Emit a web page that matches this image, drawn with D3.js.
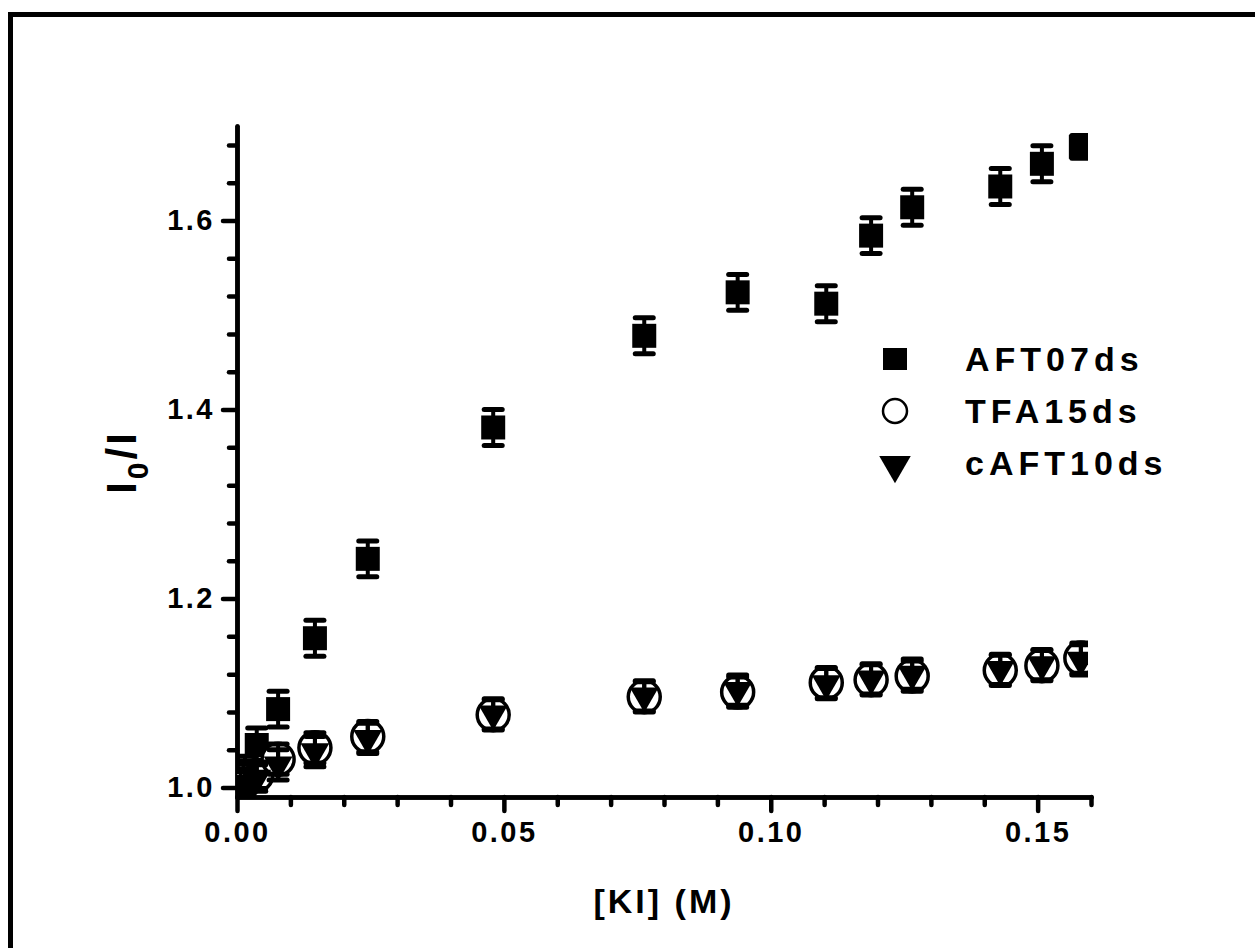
<!DOCTYPE html>
<html lang="en">
<head>
<meta charset="utf-8">
<title>I0/I vs [KI]</title>
<script src="https://d3js.org/d3.v7.min.js"></script>
<style>
  body { margin: 0; background: #fff; }
  text { font-family: Arial, "Liberation Sans", sans-serif; font-weight: bold; fill: #000; }
  .axis path, .axis line { stroke: #000; stroke-width: 4.5; stroke-linecap: round; }
  .axis text { font-size: 29px; letter-spacing: 2.5px; }
</style>
</head>
<body>
<svg id="chart" width="1255" height="948"></svg>
<script>
// KI concentration (M), shared by all three series
const conc = [0, 0.0015, 0.0037, 0.0077, 0.0146, 0.0245, 0.048, 0.0763, 0.0938, 0.1104, 0.1188, 0.1265, 0.143, 0.1508, 0.1581];

const aft07 = [1.000, 1.018, 1.045, 1.083, 1.158, 1.242, 1.381, 1.478, 1.524, 1.512, 1.584, 1.614, 1.636, 1.660, 1.678];
const aft07Err = [0.010, 0.015, 0.018, 0.019, 0.019, 0.019, 0.019, 0.019, 0.019, 0.019, 0.019, 0.019, 0.019, 0.019, 0.012];

const tfa15 = [1.000, 1.008, 1.013, 1.030, 1.042, 1.054, 1.077, 1.096, 1.101, 1.111, 1.114, 1.118, 1.124, 1.129, 1.137];
const tfa15Err = [0.010, 0.012, 0.014, 0.016, 0.016, 0.016, 0.016, 0.016, 0.016, 0.016, 0.016, 0.016, 0.016, 0.016, 0.016];

const caft10 = [1.000, 1.005, 1.010, 1.024, 1.038, 1.052, 1.078, 1.097, 1.103, 1.110, 1.115, 1.120, 1.125, 1.130, 1.135];
const caft10Err = [0.010, 0.012, 0.014, 0.016, 0.016, 0.016, 0.016, 0.016, 0.016, 0.016, 0.016, 0.016, 0.016, 0.016, 0.016];

const xMajor = [0, 0.05, 0.10, 0.15];
const xMinor = [0.01, 0.02, 0.03, 0.04, 0.06, 0.07, 0.08, 0.09, 0.11, 0.12, 0.13, 0.14, 0.16];
const yMajor = [1.0, 1.2, 1.4, 1.6];
const yMinor = [1.04, 1.08, 1.12, 1.16, 1.24, 1.28, 1.32, 1.36, 1.44, 1.48, 1.52, 1.56, 1.64, 1.68];

const seriesNames = ["AFT07ds", "TFA15ds", "cAFT10ds"];

const svg = d3.select("#chart");

// outer frame (runs off the right and bottom edge like the original)
svg.append("rect")
   .attr("x", 10.5).attr("y", 14.5)
   .attr("width", 1300).attr("height", 1000)
   .attr("fill", "none").attr("stroke", "#000").attr("stroke-width", 5);

const x = d3.scaleLinear().domain([0, 0.16]).range([237, 1091]);
const y = d3.scaleLinear().domain([0.99, 1.70]).range([797, 126]);

svg.append("defs").append("clipPath").attr("id", "plotclip")
   .append("rect")
   .attr("x", 237).attr("y", 126)
   .attr("width", 1088 - 237).attr("height", 797 - 126);

// axes
svg.append("g").attr("class", "axis")
   .attr("transform", "translate(0,797)")
   .call(d3.axisBottom(x).tickValues(xMinor).tickSize(8).tickSizeOuter(0).tickFormat(""));
svg.append("g").attr("class", "axis")
   .attr("transform", "translate(0,797)")
   .call(d3.axisBottom(x).tickValues(xMajor).tickSize(14).tickSizeOuter(0).tickPadding(10).tickFormat(d3.format(".2f")));

svg.append("g").attr("class", "axis")
   .attr("transform", "translate(237,0)")
   .call(d3.axisLeft(y).tickValues(yMinor).tickSize(8).tickSizeOuter(0).tickFormat(""));
svg.append("g").attr("class", "axis")
   .attr("transform", "translate(237,0)")
   .call(d3.axisLeft(y).tickValues(yMajor).tickSize(14).tickSizeOuter(0).tickPadding(8).tickFormat(d3.format(".1f")));

// axis titles
svg.append("text")
   .attr("x", 664).attr("y", 913)
   .attr("text-anchor", "middle")
   .style("font-size", "34px").style("letter-spacing", "3px")
   .text("[KI] (M)");

const ylab = svg.append("text")
   .attr("transform", "translate(136,462) rotate(-90)")
   .attr("text-anchor", "middle")
   .style("font-size", "42px").style("letter-spacing", "3px");
ylab.append("tspan").text("I");
ylab.append("tspan").attr("dy", 12).style("font-size", "30px").text("0");
ylab.append("tspan").attr("dy", -12).text("/I");

// data layer
const plot = svg.append("g").attr("clip-path", "url(#plotclip)");

function errorBars(vals, errs) {
  const g = plot.append("g");
  const data = conc.map((c, i) => ({ c, v: vals[i], e: errs[i] }));
  g.selectAll("line.stem").data(data).join("line")
   .attr("x1", d => x(d.c)).attr("x2", d => x(d.c))
   .attr("y1", d => y(d.v + d.e)).attr("y2", d => y(d.v - d.e))
   .attr("stroke", "#000").attr("stroke-width", 4);
  g.selectAll("line.capT").data(data).join("line")
   .attr("x1", d => x(d.c) - 9).attr("x2", d => x(d.c) + 9)
   .attr("y1", d => y(d.v + d.e)).attr("y2", d => y(d.v + d.e))
   .attr("stroke", "#000").attr("stroke-width", 5).attr("stroke-linecap", "round");
  g.selectAll("line.capB").data(data).join("line")
   .attr("x1", d => x(d.c) - 9).attr("x2", d => x(d.c) + 9)
   .attr("y1", d => y(d.v - d.e)).attr("y2", d => y(d.v - d.e))
   .attr("stroke", "#000").attr("stroke-width", 5).attr("stroke-linecap", "round");
  return data;
}

const sq = d3.symbol().type(d3.symbolSquare).size(24 * 24);
const tri = d3.symbol().type(d3.symbolTriangle).size(360);

// AFT07ds squares
const d1 = errorBars(aft07, aft07Err);
plot.append("g").selectAll("path").data(d1).join("path")
    .attr("d", sq)
    .attr("transform", d => `translate(${x(d.c)},${y(d.v)})`)
    .attr("fill", "#000");

// TFA15ds open circles
const d2 = conc.map((c, i) => ({ c, v: tfa15[i], e: tfa15Err[i] }));
plot.append("g").selectAll("circle").data(d2).join("circle")
    .attr("cx", d => x(d.c)).attr("cy", d => y(d.v)).attr("r", 16)
    .attr("fill", "#fff").attr("stroke", "#000").attr("stroke-width", 3.5);
errorBars(tfa15, tfa15Err);

// cAFT10ds down triangles
const d3data = errorBars(caft10, caft10Err);
plot.append("g").selectAll("path").data(d3data).join("path")
    .attr("d", tri)
    .attr("transform", d => `translate(${x(d.c)},${y(d.v)}) rotate(180)`)
    .attr("fill", "#000");

// legend
const legend = svg.append("g");
const ly = [359, 411, 463];
seriesNames.forEach((name, i) => {
  const cx = 895, cy = ly[i];
  if (i === 0) {
    legend.append("rect").attr("x", cx - 12).attr("y", cy - 11).attr("width", 24).attr("height", 22).attr("fill", "#000");
  } else if (i === 1) {
    legend.append("circle").attr("cx", cx).attr("cy", cy).attr("r", 12)
          .attr("fill", "#fff").attr("stroke", "#000").attr("stroke-width", 2.5);
  } else {
    legend.append("path").attr("d", d3.symbol().type(d3.symbolTriangle).size(430))
          .attr("transform", `translate(${cx},${cy + 2}) rotate(180)`).attr("fill", "#000");
  }
  legend.append("text")
        .attr("x", 965).attr("y", cy + 12)
        .style("font-size", "34px").style("letter-spacing", "5px")
        .text(name);
});
</script>
</body>
</html>
